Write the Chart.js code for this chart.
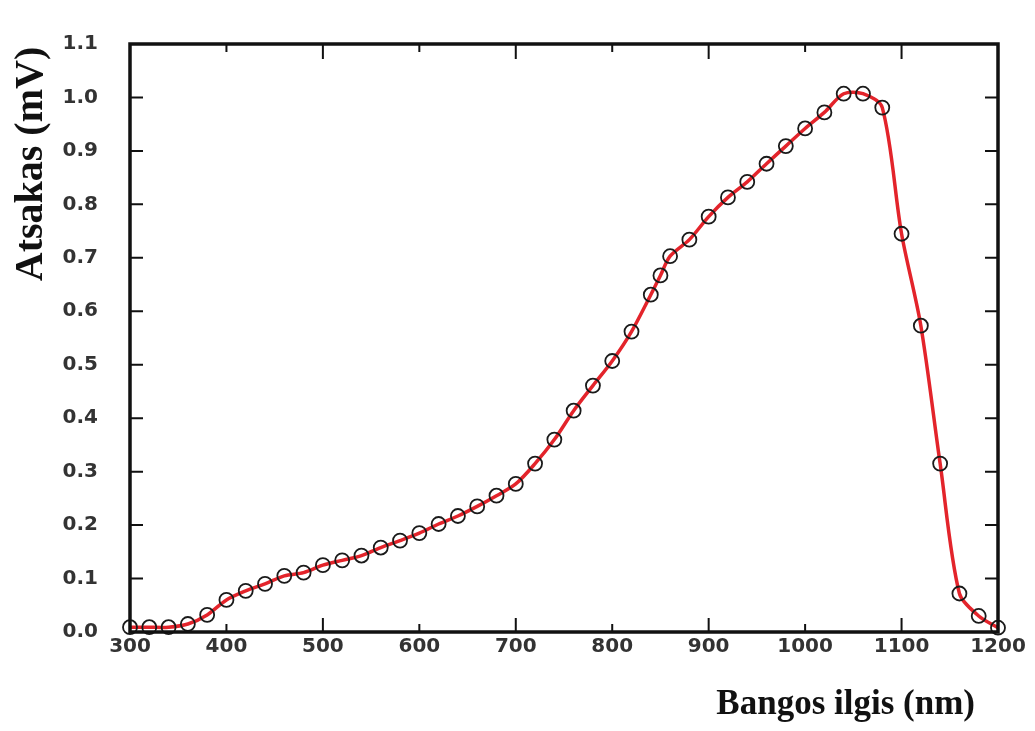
<!DOCTYPE html>
<html lang="lt">
<head>
    <meta charset="UTF-8" />
    <title>Atsakas</title>
    <script src="https://cdn.jsdelivr.net/npm/chart.js"></script>
    <style>
        html, body { margin: 0; padding: 0; background: #fff; }
        #wrap { width: 1035px; height: 731px; }
    </style>
</head>
<body>
    <div id="wrap"><canvas id="atsakasChart"></canvas></div>

    <script>
        // bangos ilgis (nm) ir atsakas (mV), nuskaityta nuo grafiko
        const wavelengths = [300, 320, 340, 360, 380, 400, 420, 440, 460, 480, 500, 520, 540, 560, 580, 600,
            620, 640, 660, 680, 700, 720, 740, 760, 780, 800, 820, 840, 850, 860, 880, 900, 920, 940, 960,
            980, 1000, 1020, 1040, 1060, 1080, 1100, 1120, 1140, 1160, 1180, 1200];
        const response = [0.009, 0.009, 0.009, 0.015, 0.032, 0.060, 0.077, 0.090, 0.105, 0.111, 0.125, 0.134,
            0.143, 0.158, 0.171, 0.185, 0.202, 0.217, 0.235, 0.255, 0.277, 0.315, 0.360, 0.414, 0.461, 0.507,
            0.562, 0.631, 0.667, 0.703, 0.734, 0.777, 0.813, 0.842, 0.876, 0.909, 0.942, 0.972, 1.007, 1.007,
            0.981, 0.745, 0.573, 0.315, 0.072, 0.030, 0.008];

        const xTicks = [300, 400, 500, 600, 700, 800, 900, 1000, 1100, 1200];
        const yTicks = [0.0, 0.1, 0.2, 0.3, 0.4, 0.5, 0.6, 0.7, 0.8, 0.9, 1.0, 1.1];
        const xTitle = 'Bangos ilgis (nm)';
        const yTitle = 'Atsakas (mV)';

        const points = wavelengths.map((w, i) => ({ x: w, y: response[i] }));

        // rėmelis, vidinės žymės ir ašių pavadinimai
        const framePlugin = {
            id: 'frame',
            afterDatasetsDraw(chart) {
                const ctx = chart.ctx;
                const a = chart.chartArea;
                const sx = chart.scales.x, sy = chart.scales.y;
                ctx.save();
                ctx.strokeStyle = '#111';
                ctx.lineWidth = 2;
                xTicks.forEach((v, i) => {
                    const px = sx.getPixelForValue(v);
                    const len = i % 2 === 1 ? 8 : 14;
                    ctx.beginPath();
                    ctx.moveTo(px, a.bottom); ctx.lineTo(px, a.bottom - len);
                    ctx.moveTo(px, a.top); ctx.lineTo(px, a.top + (i % 2 === 1 ? 8 : 15));
                    ctx.stroke();
                });
                yTicks.forEach(v => {
                    const py = sy.getPixelForValue(v);
                    ctx.beginPath();
                    ctx.moveTo(a.left, py); ctx.lineTo(a.left + 13, py);
                    ctx.moveTo(a.right, py); ctx.lineTo(a.right - 13, py);
                    ctx.stroke();
                });
                ctx.lineWidth = 3.5;
                ctx.strokeRect(a.left, a.top, a.right - a.left, a.bottom - a.top);

                ctx.fillStyle = '#111';
                ctx.font = 'bold 35px "Liberation Serif", "Times New Roman", serif';
                ctx.textAlign = 'right';
                ctx.textBaseline = 'alphabetic';
                ctx.fillText(xTitle, 975, 714);

                ctx.translate(32, 164);
                ctx.rotate(-Math.PI / 2);
                ctx.font = 'bold 40px "Liberation Serif", "Times New Roman", serif';
                ctx.textAlign = 'center';
                ctx.textBaseline = 'middle';
                ctx.fillText(yTitle, 0, 0);
                ctx.restore();
            }
        };

        new Chart(document.getElementById('atsakasChart'), {
            type: 'line',
            data: {
                datasets: [{
                    data: points,
                    borderColor: '#e3242b',
                    borderWidth: 3.5,
                    tension: 0.3,
                    pointRadius: 7,
                    pointBorderWidth: 1.8,
                    pointBorderColor: '#1a1a1a',
                    pointBackgroundColor: 'rgba(0,0,0,0)',
                    fill: false,
                    clip: false
                }]
            },
            options: {
                responsive: true,
                maintainAspectRatio: false,
                animation: false,
                events: [],
                layout: { padding: { top: 22, right: 37, left: 0, bottom: 0 } },
                plugins: {
                    legend: { display: false },
                    tooltip: { enabled: false }
                },
                scales: {
                    x: {
                        type: 'linear',
                        min: 300,
                        max: 1200,
                        afterBuildTicks: s => { s.ticks = xTicks.map(v => ({ value: v })); },
                        afterFit: s => { s.height = 99; },
                        grid: { display: false, drawTicks: false },
                        border: { display: false },
                        ticks: {
                            padding: 3,
                            color: '#333',
                            callback: v => String(v),
                            font: { family: '"DejaVu Sans", sans-serif', weight: 'bold', size: 20 }
                        }
                    },
                    y: {
                        type: 'linear',
                        min: 0,
                        max: 1.1,
                        afterBuildTicks: s => { s.ticks = yTicks.map(v => ({ value: v })); },
                        afterFit: s => { s.width = 130; },
                        grid: { display: false, drawTicks: false },
                        border: { display: false },
                        ticks: {
                            padding: 32,
                            color: '#333',
                            callback: v => v.toFixed(1),
                            font: { family: '"DejaVu Sans", sans-serif', weight: 'bold', size: 20 }
                        }
                    }
                }
            },
            plugins: [framePlugin]
        });
    </script>
</body>
</html>
